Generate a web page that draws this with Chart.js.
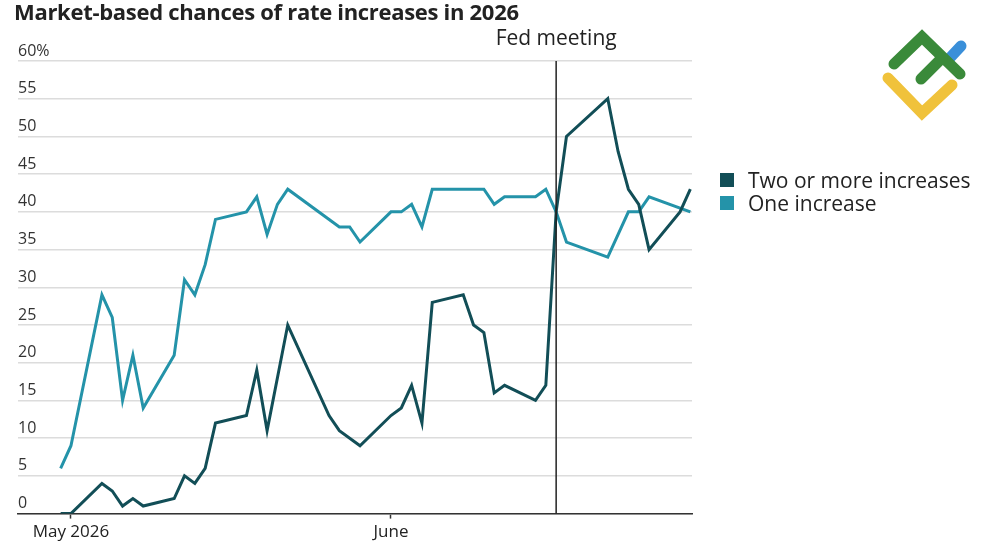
<!DOCTYPE html>
<html>
<head>
<meta charset="utf-8">
<script src="https://cdn.jsdelivr.net/npm/chart.js@4/dist/chart.umd.min.js"></script>
<style>
  body { margin: 0; background: #fff; font-family: "Open Sans", sans-serif; }
  #wrap { position: relative; width: 1000px; height: 545px; overflow: hidden; }
  #title { position: absolute; left: 14px; top: -4px; font-weight: 700; font-size: 22px; color: #222; letter-spacing: -0.3px; }
  #legend { position: absolute; left: 720px; top: 168px; font-size: 21px; color: #222; }
  #legend div { display: flex; align-items: center; height: 23px; }
  #legend span.sw { display: inline-block; width: 14px; height: 14px; margin-right: 14px; }
  #logo { position: absolute; left: 875px; top: 28px; }
</style>
</head>
<body>
<div id="wrap">
  <canvas id="ratesChart" width="1000" height="545"></canvas>
  <div id="title">Market-based chances of rate increases in 2026</div>
  <div id="legend"></div>
  <svg id="logo" width="100" height="100" viewBox="0 0 100 100">
    <g fill="none" stroke-linecap="round" stroke-width="11">
      <polyline points="13,50 47,85 77,57" stroke="#f0c23b"/>
      <line x1="72" y1="33" x2="86" y2="18" stroke="#3a8fd9"/>
      <polyline points="19,36 47,9 85,46" stroke="#3a8a3a"/>
      <line x1="46" y1="51" x2="67" y2="30" stroke="#3a8a3a"/>
    </g>
  </svg>
</div>
<script>
// days counted from May 1 (0 = May 1, 31 = June 1)
var twoDays = [-1, 0, 3, 4, 5, 6, 7, 10, 11, 12, 13, 14, 17, 18, 19, 21, 25, 26, 28, 31, 32, 33, 34, 35, 38, 39, 40, 41, 42, 45, 46, 47, 48, 52, 53, 54, 55, 56, 59, 60];
var twoValues = [0, 0, 4, 3, 1, 2, 1, 2, 5, 4, 6, 12, 13, 19, 11, 25, 13, 11, 9, 13, 14, 17, 12, 28, 29, 25, 24, 16, 17, 15, 17, 40, 50, 55, 48, 43, 41, 35, 40, 43];

var oneDays = [-1, 0, 3, 4, 5, 6, 7, 10, 11, 12, 13, 14, 17, 18, 19, 20, 21, 26, 27, 28, 31, 32, 33, 34, 35, 40, 41, 42, 45, 46, 47, 48, 52, 54, 55, 56, 60];
var oneValues = [6, 9, 29, 26, 15, 21, 14, 21, 31, 29, 33, 39, 40, 42, 37, 41, 43, 38, 38, 36, 40, 40, 41, 38, 43, 43, 41, 42, 42, 43, 40, 36, 34, 40, 40, 42, 40];

var seriesNames = ['Two or more increases', 'One increase'];
var seriesColors = ['#124e57', '#2493a9'];

var xTickDays = [0, 31];
var xTickLabels = ['May 2026', 'June'];

var fedDay = 47;
var fedLabel = 'Fed meeting';

function pts(days, vals) {
    return days.map(function(d, i) { return { x: d, y: vals[i] }; });
}

var fedLine = {
    id: 'fedLine',
    afterDatasetsDraw: function(chart) {
        var ctx = chart.ctx;
        var x = chart.scales.x.getPixelForValue(fedDay);
        var area = chart.chartArea;
        ctx.save();
        ctx.strokeStyle = '#222';
        ctx.lineWidth = 1.5;
        ctx.beginPath();
        ctx.moveTo(x, area.top);
        ctx.lineTo(x, area.bottom);
        ctx.stroke();
        ctx.fillStyle = '#222';
        ctx.font = '21px "Open Sans"';
        ctx.textAlign = 'center';
        ctx.textBaseline = 'middle';
        ctx.fillText(fedLabel, x, 39);
        ctx.restore();
    }
};

var chart = new Chart(document.getElementById('ratesChart'), {
    type: 'line',
    data: {
        datasets: [{
            label: seriesNames[0],
            data: pts(twoDays, twoValues),
            borderColor: seriesColors[0],
            backgroundColor: seriesColors[0],
            borderWidth: 3,
            pointRadius: 0,
            tension: 0
        }, {
            label: seriesNames[1],
            data: pts(oneDays, oneValues),
            borderColor: seriesColors[1],
            backgroundColor: seriesColors[1],
            borderWidth: 3,
            pointRadius: 0,
            tension: 0
        }]
    },
    options: {
        responsive: false,
        animation: false,
        layout: { padding: { left: 18, right: 308, top: 61, bottom: 0 } },
        plugins: {
            legend: { display: false },
            tooltip: { enabled: false }
        },
        scales: {
            x: {
                type: 'linear',
                min: -5.13,
                max: 60.16,
                afterBuildTicks: function(scale) {
                    scale.ticks = xTickDays.map(function(d) { return { value: d }; });
                },
                ticks: {
                    autoSkip: false,
                    maxRotation: 0,
                    padding: 3,
                    color: '#222',
                    font: { family: 'Open Sans', size: 17 },
                    callback: function(v) { return xTickLabels[xTickDays.indexOf(v)]; }
                },
                grid: { drawOnChartArea: false, tickLength: 5, tickColor: '#333', tickWidth: 1.5 },
                border: { color: '#333', width: 1.5 }
            },
            y: {
                min: 0,
                max: 60,
                afterFit: function(scale) { scale.width = 0; },
                ticks: {
                    stepSize: 5,
                    mirror: true,
                    padding: 0,
                    labelOffset: -10,
                    color: '#333',
                    font: { family: 'Open Sans', size: 16 },
                    callback: function(v) { return v === 60 ? '60%' : v; }
                },
                grid: { color: '#dcdcdc', lineWidth: 1.5, drawTicks: false },
                border: { display: false }
            }
        }
    },
    plugins: [fedLine]
});

var legend = document.getElementById('legend');
chart.data.datasets.forEach(function(ds) {
    var row = document.createElement('div');
    var sw = document.createElement('span');
    sw.className = 'sw';
    sw.style.background = ds.borderColor;
    row.appendChild(sw);
    row.appendChild(document.createTextNode(ds.label));
    legend.appendChild(row);
});
</script>
</body>
</html>
